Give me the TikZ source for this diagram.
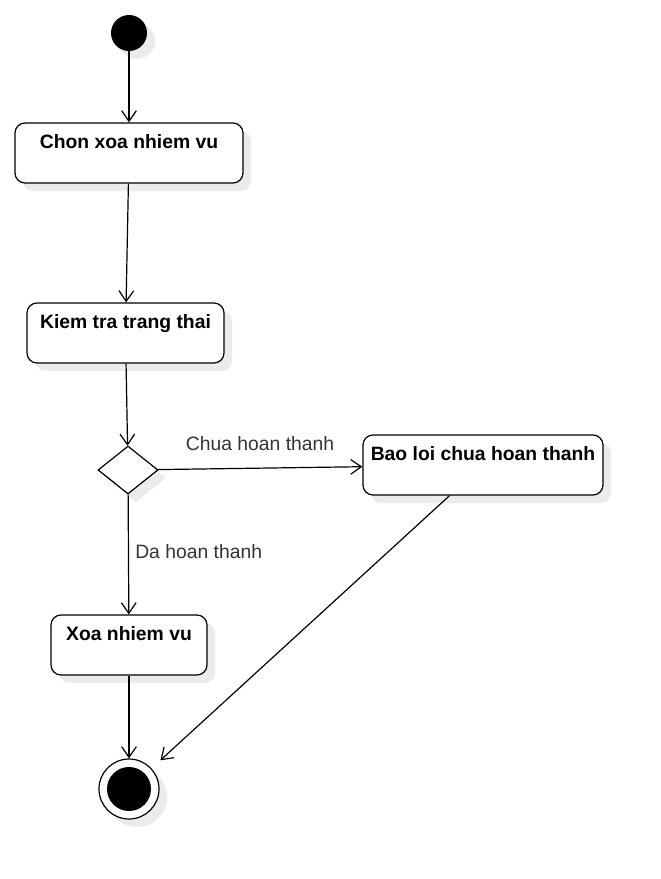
\documentclass[tikz,border=0pt]{standalone}
\usepackage{fontspec}
\setmainfont{Liberation Sans}
\usepackage{tikz}
\usetikzlibrary{shapes.geometric}
\usetikzlibrary{arrows.meta}
\usetikzlibrary{shadows}
\definecolor{sshadow}{HTML}{EBEBEB}
\definecolor{llabel}{HTML}{333333}
\begin{document}
\begin{tikzpicture}[x=0.75pt,y=-0.75pt,
	every node/.style={font=\fontsize{14.5}{17}\selectfont},
	shad/.style={drop shadow={shadow xshift=6pt,shadow yshift=-6pt,fill=sshadow,opacity=1}},
	act/.style={draw,line width=0.9pt,rounded corners=7.5pt,fill=white,shad,
		minimum height=45pt,inner ysep=0pt,text height=18.75pt,text depth=26.25pt,font=\bfseries\fontsize{14.5}{17}\selectfont},
	arr/.style={line width=0.9pt,-{Straight Barb[length=8pt,width=11pt,line width=0.9pt]}},
	lbl/.style={text=llabel,inner sep=0pt}]
				\useasboundingbox (0,0) rectangle (661,879);
				\node[circle,fill=black,minimum size=27pt,inner sep=0pt,shad] (n0) at (129,33) {};
				\node[act,minimum width=171pt] (n1) at (129,153) {Chon xoa nhiem vu};
				\node[act,minimum width=147.75pt] (n2) at (125.5,333) {Kiem tra trang thai};
				\node[diamond,draw,line width=0.9pt,fill=white,shad,minimum width=45pt,minimum height=36pt,inner sep=0pt] (n3) at (128,470) {};
				\node[act,minimum width=180pt] (n4) at (483,465) {Bao loi chua hoan thanh};
				\node[act,minimum width=117pt] (n5) at (129,645) {Xoa nhiem vu};
				\node[circle,draw,line width=0.9pt,fill=white,minimum size=45pt,inner sep=0pt,shad] (n6) at (129,789) {};
				\node[circle,fill=black,minimum size=33pt,inner sep=0pt] (n6in) at (129,789) {};
				\node[lbl] (l0) at (260,444) {Chua hoan thanh};
				\node[lbl,anchor=west] (l1) at (135,552) {Da hoan thanh};
				\draw (n0) edge [arr] (n1);
				\draw (n1) edge [arr] (n2);
				\draw (n2) edge [arr] (n3);
				\draw (n3) edge [arr] (n4);
				\draw (n3) edge [arr] (n5);
				\draw (n5) edge [arr] (n6);
				\draw (n4) edge [arr, shorten >=9pt] (n6);
			\end{tikzpicture}
\end{document}
